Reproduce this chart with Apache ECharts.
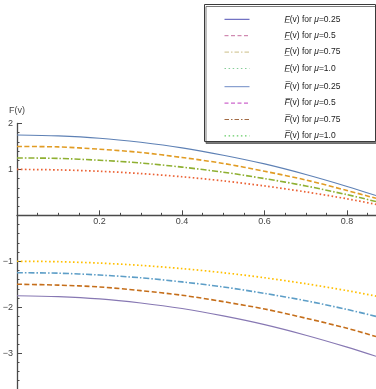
<!DOCTYPE html>
<html><head><meta charset="utf-8">
<script src="https://cdn.jsdelivr.net/npm/echarts@6/dist/echarts.min.js"></script>
<style>html,body{margin:0;padding:0;background:#fff}#c{width:376px;height:389px}</style>
</head><body><div id="c"></div>
<script>
// ---- data ----
const v = [0, 0.1, 0.2, 0.3, 0.4, 0.5, 0.6, 0.7, 0.8, 0.87];
const lowerMu025 = [1.75, 1.73, 1.68, 1.59, 1.47, 1.31, 1.12, 0.89, 0.63, 0.43];
const lowerMu05  = [1.50, 1.49, 1.44, 1.37, 1.26, 1.13, 0.96, 0.77, 0.54, 0.37];
const lowerMu075 = [1.25, 1.24, 1.20, 1.14, 1.05, 0.94, 0.80, 0.64, 0.45, 0.30];
const lowerMu10  = [1.00, 0.99, 0.96, 0.91, 0.84, 0.75, 0.64, 0.51, 0.36, 0.24];
const upperMu025 = [-1.75, -1.77, -1.82, -1.91, -2.03, -2.19, -2.38, -2.61, -2.87, -3.07];
const upperMu05  = [-1.50, -1.52, -1.56, -1.64, -1.74, -1.88, -2.04, -2.24, -2.46, -2.64];
const upperMu075 = [-1.25, -1.26, -1.30, -1.36, -1.45, -1.56, -1.70, -1.86, -2.05, -2.20];
const upperMu10  = [-1.00, -1.01, -1.04, -1.09, -1.16, -1.25, -1.36, -1.49, -1.64, -1.76];
const muLabels = ['0.25', '0.5', '0.75', '1.0'];
const xTicks = [0.2, 0.4, 0.6, 0.8];
const yTicks = [-3, -2, -1, 1, 2];

// ---- styles ----
const lowerSeriesData = [lowerMu025, lowerMu05, lowerMu075, lowerMu10];
const upperSeriesData = [upperMu025, upperMu05, upperMu075, upperMu10];
const lowerColors = ['#5E81B5', '#E19C24', '#8FB032', '#EB6235'];
const upperColors = ['#8778B3', '#C56E1A', '#5D9EC7', '#FFBF00'];
const dashes = ['solid', [5, 2.5], [6, 2, 1.5, 2], [1.6, 2.4]];
const widths = [1.1, 1.6, 1.6, 1.7];
const legDashes = ['solid', [4, 2.5], [4.5, 2, 1.5, 2], [1.5, 2.6]];
const legLowerColors = ['#4F4FB5', '#C56F9F', '#CBBE86', '#86CD98'];
const legUpperColors = ['#6F8CC6', '#C03FBF', '#A26B45', '#3FBF3F'];

const lowerNames = muLabels.map(m => 'F\u0332(v) for \u03bc=' + m);
const upperNames = muLabels.map(m => 'F\u0305(v) for \u03bc=' + m);

const FONT = 'Liberation Sans, Arial, sans-serif';
const LFS = 8.5;

function mkSeries(name, arr, color, dash, w) {
  return {
    name, type: 'line', smooth: 0.3, symbol: 'none', showSymbol: false,
    data: v.map((x, i) => [x, arr[i]]),
    lineStyle: { color, type: dash, width: w },
    itemStyle: { color },
    z: 2
  };
}
const series = [];
lowerNames.forEach((n, i) => series.push(mkSeries(n, lowerSeriesData[i], lowerColors[i], dashes[i], widths[i])));
upperNames.forEach((n, i) => series.push(mkSeries(n, upperSeriesData[i], upperColors[i], dashes[i], widths[i])));

function legendFmt(name) {
  const head = name.slice(0, 2);
  const rest = name.slice(2).replace('\u03bc', '{i|\u03bc}');
  return '{s|}{i|' + head + '}' + rest;
}
const richLeg = {
  s: { width: 30 },
  i: { fontStyle: 'italic', fontSize: LFS, fontFamily: FONT, color: '#222' }
};
function mkLegend(names, colors, top) {
  return {
    orient: 'vertical', left: 219, top,
    itemWidth: 25, itemHeight: 10, itemGap: 6.4,
    selectedMode: false, z: 5,
    formatter: legendFmt,
    textStyle: { fontSize: LFS, fontFamily: FONT, color: '#222', lineHeight: 10, rich: richLeg },
    data: names.map((n, i) => ({
      name: n,
      itemStyle: { color: 'rgba(0,0,0,0)', opacity: 0, borderWidth: 0 },
      lineStyle: { color: colors[i], type: legDashes[i], width: 1, opacity: 1 }
    }))
  };
}

const axisCol = '#4a4a4a';
const chart = echarts.init(document.getElementById('c'), null, { renderer: 'canvas' });
chart.setOption({
  animation: false,
  backgroundColor: '#fff',
  grid: { left: 17, right: 0, top: 123.5, bottom: -10, containLabel: false, outerBoundsMode: 'none' },
  xAxis: [{
    type: 'value', min: 0, max: 0.87, interval: 0.2,
    axisLine: { onZero: true, lineStyle: { color: axisCol, width: 1.3 } },
    axisTick: { inside: true, length: 5, lineStyle: { color: axisCol, width: 1 } },
    minorTick: { show: true, splitNumber: 4, length: 2.5, lineStyle: { color: axisCol, width: 1 } },
    splitLine: { show: false },
    axisLabel: { show: false }
  }, {
    type: 'value', min: 0, max: 0.87, interval: 0.2, position: 'top', offset: -91.8,
    axisLine: { show: false }, axisTick: { show: false }, splitLine: { show: false },
    axisLabel: {
      show: true, inside: true, customValues: xTicks,
      fontSize: 9, fontFamily: FONT, color: '#444', margin: 2,
      formatter: x => Number(x).toFixed(1)
    }
  }],
  yAxis: {
    type: 'value', min: -4, max: 2, interval: 1,
    name: 'F(v)', nameLocation: 'end', nameGap: 8,
    nameTextStyle: { fontSize: 9, fontFamily: FONT, color: '#444' },
    axisLine: { show: true, onZero: false, lineStyle: { color: axisCol, width: 1.3 } },
    axisTick: { show: true, inside: true, length: 5, lineStyle: { color: axisCol, width: 1 } },
    minorTick: { show: true, splitNumber: 5, length: 2.5, lineStyle: { color: axisCol, width: 1 } },
    splitLine: { show: false },
    axisLabel: {
      customValues: yTicks, fontSize: 9, fontFamily: FONT, color: '#444', margin: 4,
      formatter: y => String(y).replace('-', '\u2212')
    }
  },
  legend: [mkLegend(lowerNames, legLowerColors, 9.3), mkLegend(upperNames, legUpperColors, 76.7)],
  graphic: [{
    type: 'rect', z: 3, silent: true,
    shape: { x: 204.5, y: 4.5, width: 171, height: 137 },
    style: { fill: '#fff', stroke: '#3a3a3a', lineWidth: 1, shadowColor: 'rgba(90,90,90,0.8)', shadowOffsetX: 1.5, shadowOffsetY: 2, shadowBlur: 0 }
  }],
  series
});
</script>
</body></html>
